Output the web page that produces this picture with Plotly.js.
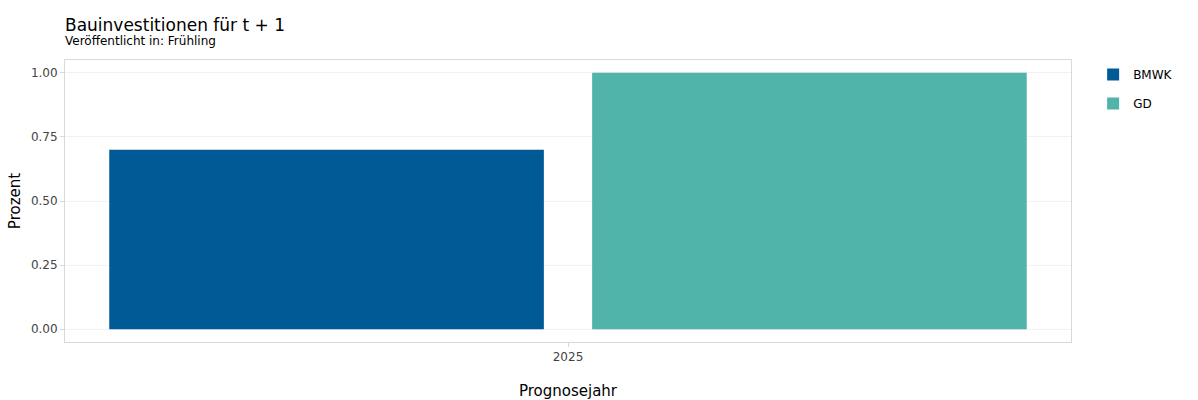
<!DOCTYPE html>
<html><head><meta charset="utf-8">
<script src="https://cdn.plot.ly/plotly-3.0.1.min.js"></script>
<style>body{margin:0}</style>
</head><body>
<div id="chart" style="width:1198px;height:400px"></div>
<script>
const categories = ["2025"];
const seriesNames = ["BMWK", "GD"];
const bmwkValues = [0.70];
const gdValues = [1.00];
const yTickVals = [0, 0.25, 0.5, 0.75, 1.0];
const yTickText = ["0.00", "0.25", "0.50", "0.75", "1.00"];
const colors = ["#005a96", "#50b4aa"];
const titleText = "Bauinvestitionen für t + 1";
const subtitleText = "Veröffentlicht in: Frühling";

const font = "DejaVu Sans, Verdana, sans-serif";
const traces = [
  {type: "bar", x: categories, y: bmwkValues, name: seriesNames[0], marker: {color: colors[0]}, legendgroup: "a"},
  {type: "bar", x: categories, y: gdValues, name: seriesNames[1], marker: {color: colors[1]}, legendgroup: "b"}
];
const layout = {
  width: 1198, height: 400,
  margin: {l: 65, r: 127, t: 60, b: 58},
  paper_bgcolor: "#fff", plot_bgcolor: "#fff",
  font: {family: font, size: 12, color: "#000"},
  barmode: "group", bargap: 0.04, bargroupgap: 0.1,
  title: {text: titleText,
          x: 0, xanchor: "left", xref: "paper", y: 0.952, yanchor: "top",
          font: {family: font, size: 17, color: "#000"}},
  annotations: [{text: subtitleText, xref: "paper", yref: "paper", x: -0.002, y: 1.036,
                 xanchor: "left", yanchor: "bottom", showarrow: false,
                 font: {family: font, size: 12, color: "#000"}}],
  xaxis: {type: "category", title: {text: "Prognosejahr", font: {size: 15}, standoff: 23},
          showline: true, mirror: true, linecolor: "#d9d9d9", linewidth: 1,
          ticks: "outside", tickcolor: "#d9d9d9", ticklen: 4,
          tickfont: {size: 12, color: "#444"}, showgrid: false, zeroline: false},
  yaxis: {title: {text: "Prozent", font: {size: 15}, standoff: 6},
          range: [-0.05, 1.05], tickvals: yTickVals, ticktext: yTickText,
          showline: true, mirror: true, linecolor: "#d9d9d9", linewidth: 1,
          ticks: "outside", tickcolor: "#d9d9d9", ticklen: 4,
          tickfont: {size: 12, color: "#444"},
          gridcolor: "#f2f2f2", zeroline: false},
  legend: {x: 1.022, xanchor: "left", y: 1, yanchor: "top", tracegroupgap: 10,
           font: {size: 12, color: "#000"}},
  showlegend: true
};
Plotly.newPlot("chart", traces, layout, {displayModeBar: false});
</script>
</body></html>
